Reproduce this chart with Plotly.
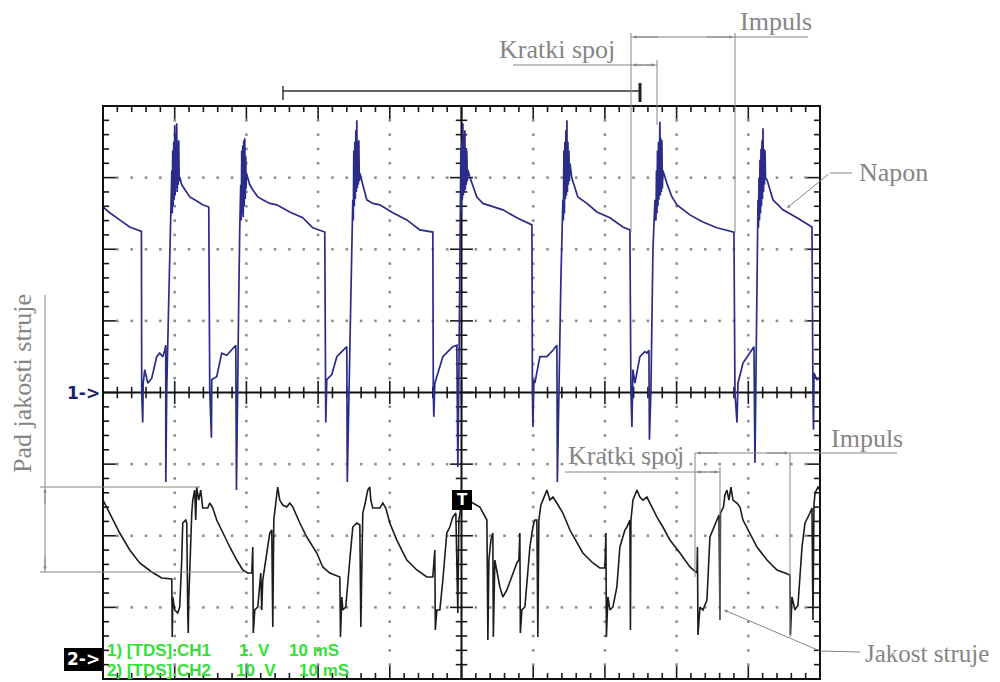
import plotly.graph_objects as go

# ---------------- data (time in ms, 10 ms/div) ----------------
# CH1 "Napon" (1 V/div, zero at centre line)
ch1_t = [0.0, 0.93, 2.33, 3.73, 5.36, 5.40, 5.54, 5.61, 5.82, 6.24, 6.80, 7.49, 7.91, 8.33, 8.61, 8.75, 8.76, 8.89, 9.17, 9.45,
         9.60, 9.66, 9.72, 9.79, 9.86, 9.93, 10.0, 10.07, 10.14, 10.21, 10.28, 10.35, 10.42, 10.49, 10.56, 10.63, 10.70,
         10.98, 11.40, 12.10, 12.79, 13.91, 14.75, 14.89, 15.12, 15.17, 15.86, 16.56, 17.26, 17.96, 18.52, 18.61, 18.72, 18.93, 19.07,
         19.21, 19.28, 19.35, 19.42, 19.49, 19.56, 19.63, 19.70, 19.77, 19.84, 19.91, 19.96, 20.01,
         20.47, 20.89, 21.59, 22.28, 23.26, 24.23, 26.05, 27.86, 29.26, 30.93, 31.00, 31.07, 31.21, 31.91, 32.61, 33.45, 34.00, 34.07, 34.28, 34.56, 34.84,
         34.91, 34.98, 35.05, 35.12, 35.19, 35.26, 35.33, 35.40, 35.47, 35.54, 35.61, 35.68, 35.75, 35.82,
         36.23, 36.79, 37.63, 38.61, 40.42, 42.37, 44.19, 46.0, 46.07, 46.14, 46.28, 46.84, 47.40, 48.09, 48.79, 49.35, 49.49, 49.63, 49.77,
         49.91, 49.98, 50.05, 50.12, 50.19, 50.26, 50.33, 50.40, 50.47, 50.54, 50.60, 50.67, 50.74, 50.81, 50.88, 51.16,
         51.72, 52.14, 52.98, 54.37, 55.77, 57.72, 59.82, 59.89, 59.96, 60.10, 60.23, 60.93, 61.91, 62.75, 63.30, 63.37, 63.58, 63.86, 64.14,
         64.21, 64.28, 64.35, 64.42, 64.49, 64.56, 64.63, 64.70, 64.77, 64.84, 64.91, 64.98, 65.05, 65.12, 65.40,
         66.23, 67.49, 68.88, 70.70, 72.51, 73.49, 73.63, 73.77, 73.91, 74.19, 74.88, 75.58, 75.86, 76.14, 76.21, 76.42, 76.70, 76.98,
         77.12, 77.19, 77.26, 77.33, 77.40, 77.47, 77.53, 77.60, 77.67, 77.74, 77.81, 77.88, 77.95, 78.02, 78.09,
         78.65, 79.35, 80.05, 81.86, 83.67, 85.63, 88.0, 88.14, 88.42, 88.56, 89.26, 90.23, 90.79, 90.93, 91.07, 91.21, 91.35,
         91.42, 91.49, 91.56, 91.63, 91.70, 91.77, 91.84, 91.91, 91.98, 92.05, 92.12, 92.19, 92.26, 92.33, 92.40, 92.61,
         93.44, 94.84, 96.79, 98.88, 99.02, 99.09, 99.16, 99.58, 100.0]
ch1_v = [2.59, 2.51, 2.41, 2.31, 2.25, 0.0, -0.42, 0.13, 0.32, 0.13, 0.20, 0.50, 0.55, 0.50, 0.59, 0.66, -1.25, 0.04, 1.29, 2.41,
         3.1, 2.5, 3.38, 2.6, 3.5, 2.69, 3.73, 2.75, 3.6, 2.85, 3.76, 2.8, 3.5, 2.9, 3.52, 2.95, 3.01,
         2.90, 2.83, 2.73, 2.69, 2.62, 2.59, 0.04, -0.63, 0.18, 0.22, 0.55, 0.52, 0.59, 0.66, -1.36, -0.10, 1.29, 2.27,
         2.9, 2.4, 3.38, 2.5, 3.45, 2.45, 3.52, 2.6, 3.55, 2.7, 3.3, 2.85, 3.06,
         2.90, 2.83, 2.73, 2.69, 2.64, 2.62, 2.52, 2.44, 2.30, 2.24, 0.0, -0.42, 0.18, 0.25, 0.50, 0.59, 0.64, -1.25, 0.04, 1.29, 2.69,
         2.4, 3.38, 2.6, 3.5, 2.7, 3.66, 2.8, 3.80, 2.85, 3.5, 2.9, 3.52, 2.95, 3.06,
         2.90, 2.69, 2.64, 2.62, 2.51, 2.41, 2.27, 2.24, 0.0, -0.34, 0.13, 0.32, 0.50, 0.57, 0.64, 0.66, -1.04, 0.18, 1.99,
         3.38, 2.5, 3.5, 2.69, 3.76, 2.75, 3.6, 2.8, 3.66, 2.83, 3.4, 2.9, 3.38, 2.95, 3.11, 3.01,
         2.83, 2.73, 2.64, 2.59, 2.55, 2.44, 2.34, 0.0, -0.48, 0.18, 0.13, 0.50, 0.50, 0.59, 0.66, -1.25, 0.18, 1.57, 2.69,
         2.4, 3.38, 2.5, 3.5, 2.7, 3.66, 2.75, 3.80, 2.8, 3.5, 2.9, 3.38, 2.95, 3.2, 2.99,
         2.73, 2.64, 2.52, 2.44, 2.31, 2.27, 0.0, -0.48, 0.32, 0.13, 0.50, 0.57, 0.55, 0.59, -0.66, 0.04, 1.99, 2.69,
         2.4, 3.1, 2.5, 3.38, 2.6, 3.5, 2.69, 3.6, 3.78, 2.75, 3.55, 2.8, 3.52, 2.85, 3.1,
         2.92, 2.73, 2.62, 2.48, 2.38, 2.30, 2.24, 0.0, -0.42, 0.13, 0.41, 0.55, 0.64, -0.98, 0.18, 1.99, 2.69,
         2.3, 3.0, 2.4, 3.25, 2.5, 3.4, 2.6, 3.52, 2.7, 3.69, 2.8, 3.4, 2.9, 3.38, 3.0, 2.97,
         2.69, 2.55, 2.44, 2.31, 0.0, -0.52, 0.27, 0.18, 0.20]

# CH2 "Jakost struje" (10 V/div, zero at the 2-> marker)
ch2_t = [0.0, 0.93, 2.33, 3.73, 5.12, 6.80, 8.19, 9.59, 9.66, 9.73, 10.0, 10.42, 10.70, 10.98, 11.12,
         11.54, 11.68, 11.82, 11.89, 11.96, 12.24, 12.38, 12.52, 12.79, 12.93, 13.07, 13.35, 13.63, 13.91,
         14.61, 14.89, 15.31, 15.86, 16.70, 17.68, 18.65, 19.49, 20.19, 20.75, 20.89, 20.96, 21.17, 21.59,
         22.0, 22.14, 22.28, 22.70, 23.26, 23.54, 23.68, 23.82, 23.96, 24.23, 24.37, 24.65, 25.07, 25.63,
         26.05, 26.47, 27.45, 28.42, 29.82, 30.65, 31.63, 33.03, 33.12, 33.31, 33.45, 33.86, 34.42, 34.84,
         35.40, 35.82, 35.96, 36.09, 36.23, 36.51, 36.93, 37.21, 37.35, 37.63, 38.61, 39.03, 39.44, 40.0,
         40.98, 42.37, 43.77, 45.16, 46.0, 46.28, 46.35, 46.56, 46.98, 47.40, 47.95, 48.37, 48.79, 49.21,
         49.35, 49.49, 49.63, 49.91, 50.47, 51.58, 52.56, 52.98, 53.54, 53.68, 53.82, 54.10, 54.37, 54.44,
         54.65, 55.35, 55.77, 56.33, 57.02, 57.72, 58.0, 58.14, 58.21, 58.42, 58.84, 59.26, 59.54, 59.96,
         60.23, 60.51, 60.65, 60.79, 61.07, 61.35, 61.91, 62.33, 62.75, 63.30, 64.14, 65.12, 66.09, 66.93,
         68.33, 69.30, 70.0, 70.14, 70.21, 70.42, 70.70, 71.12, 71.67, 72.09, 72.79, 73.07, 73.49, 73.56,
         73.63, 73.91, 74.47, 74.88, 75.30, 75.86, 76.28, 77.26, 78.09, 79.07, 80.47, 81.86, 82.84, 82.91,
         82.98, 83.26, 83.67, 84.23, 84.65, 85.07, 85.63, 85.91, 86.05, 86.12, 86.53, 86.74, 87.02, 87.30,
         87.58, 87.86, 88.42, 88.84, 89.26, 90.23, 91.21, 92.61, 94.0, 95.12, 95.81, 95.88, 96.09, 96.51,
         96.93, 97.49, 97.91, 98.60, 98.88, 99.02, 99.16, 99.30, 99.72, 100.0]
ch2_v = [22.18, 20.37, 17.58, 15.21, 13.40, 12.14, 11.30, 11.16, 3.07, 8.65, 6.84, 6.42, 7.26, 13.81, 18.98,
         19.39, 18.98, 6.42, 3.63, 8.23, 18.0, 20.37, 22.18, 23.58, 19.39, 24.0, 22.18, 23.58, 21.07,
         21.07, 21.77, 21.07, 19.39, 17.58, 15.63, 13.81, 12.42, 12.0, 12.0, 15.63, 3.63, 6.84, 7.26,
         12.0, 6.84, 11.02, 13.81, 17.58, 18.0, 4.47, 19.39, 20.37, 22.88, 24.0, 22.18, 21.49, 21.21,
         21.77, 21.21, 18.98, 17.02, 14.79, 12.84, 12.0, 11.44, 3.07, 8.65, 6.84, 7.26, 13.81, 18.42,
         18.98, 18.70, 4.47, 13.81, 20.37, 21.49, 23.58, 24.0, 22.18, 21.07, 21.07, 21.77, 21.07, 18.98,
         16.6, 13.81, 12.42, 11.44, 11.44, 15.21, 4.05, 6.84, 6.84, 11.02, 17.58, 18.42, 19.81, 20.37,
         9.63, 6.42, 19.39, 21.21, 22.18, 21.77, 21.21, 20.37, 19.39, 2.65, 13.81, 16.6, 17.58, 3.07,
         13.81, 10.05, 8.65, 9.63, 11.44, 13.40, 13.81, 17.58, 3.63, 6.84, 7.26, 12.0, 15.63, 18.42,
         19.39, 19.39, 3.07, 19.39, 21.49, 22.18, 23.58, 22.18, 22.6, 21.77, 20.37, 18.0, 16.19, 14.79,
         13.40, 12.70, 12.70, 17.58, 3.07, 8.65, 6.84, 7.26, 10.05, 15.63, 18.0, 18.42, 19.39, 4.05,
         19.39, 22.18, 23.58, 22.6, 22.18, 22.6, 21.77, 19.81, 18.42, 16.6, 14.79, 12.84, 12.0, 15.63,
         3.35, 7.26, 6.84, 8.23, 17.02, 18.0, 19.39, 20.09, 5.44, 20.37, 21.21, 22.88, 23.58, 22.18,
         24.0, 22.18, 21.77, 21.21, 19.39, 17.58, 15.63, 13.81, 12.42, 12.0, 11.72, 3.35, 8.65, 6.84,
         7.53, 15.63, 18.98, 20.37, 21.07, 5.44, 21.49, 23.16, 24.0, 23.58]

# status-line text pieces
ch1_status = ["1) [TDS].CH1", "1.\u00a0V", "10\u00a0mS"]
ch2_status = ["2) [TDS].CH2", "10\u00a0\u00a0V", "10\u00a0mS"]

# ---------------- geometry ----------------
# the page has an 8 px body margin, so the figure is 992x674 placed at (8, 8)
PAGE_OFF = 8
W, H = 1000 - PAGE_OFF, 682 - PAGE_OFF
# plot area in screenshot pixels
L_PX, R_PX, T_PX, B_PX = 103, 820, 106, 679
CH2_ZERO_DIV = 0.28          # CH2 ground marker position (divisions from bottom)


def P(px, py):
    """screenshot pixel position -> paper coordinates"""
    return (px - L_PX) / (R_PX - L_PX), (B_PX - py) / (B_PX - T_PX)


def D(xd, yd):
    """divisions -> CH1 axis coordinates (ms, V)"""
    return xd * 10.0, yd - 4.0


fig = go.Figure()

# graticule dots
dx, dy = [], []
seen = set()
for k in range(1, 10):
    if k == 5:
        continue
    for j in range(1, 40):
        key = (k * 5, j)
        if key not in seen:
            seen.add(key)
            x, y = D(k, j * 0.2)
            dx.append(x); dy.append(y)
for k in range(1, 8):
    if k == 4:
        continue
    for i in range(1, 50):
        key = (i, k * 5)
        if key not in seen:
            seen.add(key)
            x, y = D(i * 0.2, k)
            dx.append(x); dy.append(y)
fig.add_trace(go.Scatter(x=dx, y=dy, mode="markers", hoverinfo="skip",
                         marker=dict(size=2.6, color="#8f8f8f", symbol="square", line=dict(width=0)),
                         showlegend=False))

# ticks on border and centre cross
tx, ty = [], []
MIN_T, MAJ_T = 0.085, 0.18
for i in range(1, 50):
    ln = MAJ_T if i % 5 == 0 else MIN_T
    xd = i * 0.2
    for (a, b) in [(8, 8 - ln), (0, ln)]:
        x0, y0 = D(xd, a); x1, y1 = D(xd, b)
        tx += [x0, x1, None]; ty += [y0, y1, None]
    c = 0.16 if i % 5 == 0 else 0.08
    x0, y0 = D(xd, 4 - c); x1, y1 = D(xd, 4 + c)
    tx += [x0, x1, None]; ty += [y0, y1, None]
for j in range(1, 40):
    ln = MAJ_T if j % 5 == 0 else MIN_T
    yd = j * 0.2
    for (a, b) in [(0, ln), (10, 10 - ln)]:
        x0, y0 = D(a, yd); x1, y1 = D(b, yd)
        tx += [x0, x1, None]; ty += [y0, y1, None]
    c = 0.16 if j % 5 == 0 else 0.08
    x0, y0 = D(5 - c, yd); x1, y1 = D(5 + c, yd)
    tx += [x0, x1, None]; ty += [y0, y1, None]
fig.add_trace(go.Scatter(x=tx, y=ty, mode="lines", hoverinfo="skip",
                         line=dict(color="#1a1a1a", width=1.6), showlegend=False))

# centre cross lines
cx, cy = [], []
for (a, b) in [((0, 4), (10, 4)), ((5, 0), (5, 8))]:
    x0, y0 = D(*a); x1, y1 = D(*b)
    cx += [x0, x1, None]; cy += [y0, y1, None]
fig.add_trace(go.Scatter(x=cx, y=cy, mode="lines", hoverinfo="skip",
                         line=dict(color="#111111", width=2), showlegend=False))

# waveforms
fig.add_trace(go.Scatter(x=ch2_t, y=ch2_v, mode="lines", yaxis="y2", name="CH2",
                         line=dict(color="#1c1c1c", width=1.6), showlegend=False))
fig.add_trace(go.Scatter(x=ch1_t, y=ch1_v, mode="lines", name="CH1",
                         line=dict(color="#2b2b88", width=1.7), showlegend=False))

GREY = "#858585"
shapes = []


def pline(p0, p1, color=GREY, width=1.0):
    x0, y0 = P(*p0); x1, y1 = P(*p1)
    shapes.append(dict(type="line", xref="paper", yref="paper", x0=x0, y0=y0, x1=x1, y1=y1,
                       line=dict(color=color, width=width)))


def prect(p0, p1, fill):
    x0, y0 = P(*p0); x1, y1 = P(*p1)
    shapes.append(dict(type="rect", xref="paper", yref="paper", x0=x0, y0=y0, x1=x1, y1=y1,
                       line=dict(width=0), fillcolor=fill, layer="above"))


# frame
shapes.append(dict(type="rect", xref="paper", yref="paper", x0=0, y0=0, x1=1, y1=1,
                   line=dict(color="#111111", width=2)))

# top bracket
pline((283, 91), (640, 91), "#333333", 1.5)
pline((283, 86), (283, 100), "#333333", 1.5)
pline((640, 83), (640, 102), "#222222", 3)

# top Impuls / Kratki spoj
pline((631, 37), (808, 37))
pline((631, 33), (631, 232))
pline((735, 33), (735, 233))
pline((513, 65), (657, 65))
pline((657, 60), (657, 125))
# Napon
pline((852, 173), (830, 173))
# lower Kratki spoj / Impuls
pline((565, 472), (720, 472))
pline((720, 467), (720, 620))
pline((695, 453), (897, 453))
pline((695, 453), (695, 577))
pline((790, 453), (790, 637))
# Jakost struje
pline((860, 652), (820, 651))
# Pad jakosti struje
pline((40, 487), (200, 487))
pline((40, 572), (245, 572))
pline((45, 295), (45, 572))

# 2-> box and T marker
prect((64, 648), (102, 671), "#000000")
prect((452, 490), (472, 510), "#000000")

annotations = []


def arrow(head, tail, size=0.7):
    x, y = P(*head)
    annotations.append(dict(x=x, y=y, xref="paper", yref="paper", text="", showarrow=True,
                            ax=tail[0] - head[0], ay=tail[1] - head[1], arrowhead=2,
                            arrowsize=size, arrowwidth=1, arrowcolor=GREY, standoff=0,
                            startstandoff=0))


arrow((633, 37), (660, 37))
arrow((733, 37), (705, 37))
arrow((633, 65), (645, 65))
arrow((655, 65), (643, 65))
arrow((787, 208), (830, 173))
arrow((697, 472), (708, 472))
arrow((718, 472), (707, 472))
arrow((697, 453), (720, 453))
arrow((788, 453), (765, 453))
arrow((724, 610), (820, 651))
arrow((45, 489), (45, 505))
arrow((45, 570), (45, 555))


def label(text, px, py, size=26, color=GREY, family="Liberation Serif", angle=0, bold=False,
          xanchor="center"):
    x, y = P(px, py)
    t = "<b>%s</b>" % text if bold else text
    annotations.append(dict(x=x, y=y, xref="paper", yref="paper", text=t, showarrow=False,
                            textangle=angle, xanchor=xanchor, yanchor="middle",
                            font=dict(family=family, size=size, color=color)))


label("Kratki spoj", 557, 49)
label("Impuls", 776, 21)
label("Napon", 893, 172)
label("Kratki spoj", 626, 456)
label("Impuls", 867, 438)
label("Jakost struje", 927, 653, size=25)
label("Pad jakosti struje", 22, 384, angle=-90)
label("1->", 83, 393, size=17, color="#1d1d6e", family="DejaVu Sans", bold=True)
label("2->", 83, 659, size=17, color="#ffffff", family="DejaVu Sans", bold=True)
label("T", 462, 500, size=15, color="#ffffff", family="DejaVu Sans", bold=True)

GREEN = "#35e035"
for txt, px in zip(ch1_status, [105, 237, 287]):
    label(txt, px, 650, size=17, color=GREEN, family="Liberation Sans", bold=True, xanchor="left")
for txt, px in zip(ch2_status, [105, 234, 297]):
    label(txt, px, 670, size=17, color=GREEN, family="Liberation Sans", bold=True, xanchor="left")

fig.update_layout(
    width=W, height=H,
    margin=dict(l=L_PX - PAGE_OFF, r=W - (R_PX - PAGE_OFF), t=T_PX - PAGE_OFF,
                b=H - (B_PX - PAGE_OFF), pad=0),
    paper_bgcolor="white", plot_bgcolor="white",
    xaxis=dict(range=[0, 100], showgrid=False, zeroline=False, showticklabels=False,
               ticks="", showline=False, fixedrange=True),
    yaxis=dict(range=[-4, 4], showgrid=False, zeroline=False, showticklabels=False,
               ticks="", showline=False, fixedrange=True),
    yaxis2=dict(range=[-CH2_ZERO_DIV * 10, (8 - CH2_ZERO_DIV) * 10], overlaying="y",
                showgrid=False, zeroline=False, showticklabels=False, ticks="",
                showline=False, fixedrange=True),
    shapes=shapes,
    annotations=annotations,
    showlegend=False,
)

fig.write_html("out.html")
